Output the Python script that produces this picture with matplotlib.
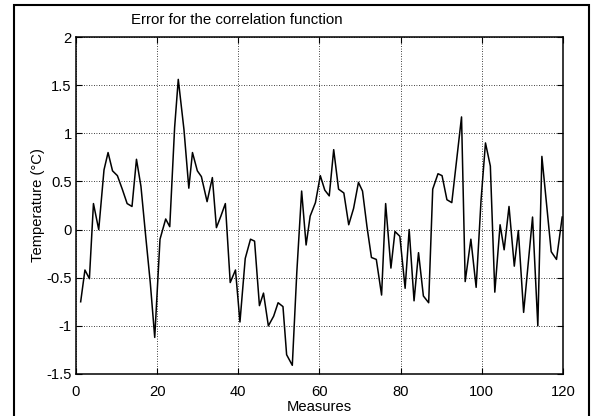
import matplotlib
matplotlib.use("Agg")
import matplotlib.pyplot as plt
from matplotlib.patches import Rectangle

# vertices (measure index, error in degC)
measure = [1.15, 2.2, 3.3, 4.3, 5.6, 6.9, 7.9, 9.0, 10.2, 11.4,
           12.6, 13.8, 14.9, 16.0, 17.2, 18.3, 19.4, 20.7, 22.1, 23.1,
           24.3, 25.2, 26.6, 27.8, 28.7, 29.9, 30.9, 32.3, 33.6, 34.6,
           35.7, 36.8, 38.0, 39.3, 40.4, 41.7, 43.0, 44.0, 45.2, 46.2,
           47.4, 48.7, 49.8, 51.0, 51.9, 53.3, 54.4, 55.6, 56.7, 57.7,
           59.0, 60.2, 61.3, 62.4, 63.5, 64.7, 66.0, 67.2, 68.4, 69.6,
           70.6, 71.7, 72.8, 74.0, 75.3, 76.3, 77.6, 78.6, 79.8, 81.1,
           82.1, 83.3, 84.4, 85.6, 86.9, 87.9, 89.2, 90.2, 91.4, 92.6,
           95.0, 95.9, 97.3, 98.6, 99.8, 100.9, 102.1, 103.2, 104.5, 105.5,
           106.7, 108.0, 109.0, 110.3, 112.5, 113.8, 114.8, 117.1, 118.4, 119.8]
error = [-0.75, -0.42, -0.51, 0.27, 0.0, 0.62, 0.80, 0.61, 0.56, 0.42,
         0.27, 0.24, 0.73, 0.45, -0.08, -0.55, -1.12, -0.10, 0.11, 0.03,
         1.06, 1.56, 1.04, 0.43, 0.80, 0.61, 0.55, 0.29, 0.54, 0.02,
         0.14, 0.27, -0.55, -0.42, -0.96, -0.30, -0.10, -0.12, -0.79, -0.66,
         -1.0, -0.90, -0.76, -0.80, -1.30, -1.41, -0.45, 0.40, -0.16, 0.14,
         0.28, 0.56, 0.41, 0.35, 0.83, 0.42, 0.38, 0.05, 0.22, 0.49,
         0.40, 0.03, -0.29, -0.31, -0.68, 0.27, -0.40, -0.02, -0.07, -0.61,
         0.0, -0.74, -0.24, -0.69, -0.76, 0.42, 0.58, 0.56, 0.31, 0.28,
         1.17, -0.54, -0.10, -0.60, 0.30, 0.90, 0.66, -0.65, 0.05, -0.21,
         0.24, -0.38, -0.01, -0.86, 0.13, -1.0, 0.76, -0.23, -0.31, 0.13]

x_ticks = [0, 20, 40, 60, 80, 100, 120]
y_ticks = [-1.5, -1, -0.5, 0, 0.5, 1, 1.5, 2]
y_tick_labels = ["-1.5", "-1", "-0.5", "0", "0.5", "1", "1.5", "2"]

plt.rcParams["font.family"] = ["Liberation Sans", "DejaVu Sans"]
plt.rcParams["font.size"] = 10.6

fig = plt.figure(figsize=(5.91, 4.16), dpi=100)
ax = fig.add_axes([0.1286, 0.101, 0.824, 0.810])

ax.plot(measure, error, color="black", linewidth=1.1)

ax.set_xlim(0, 120)
ax.set_ylim(-1.5, 2)
ax.set_xticks(x_ticks)
ax.set_yticks(y_ticks)
ax.set_yticklabels(y_tick_labels)
ax.tick_params(direction="in", length=4, width=0.8, colors="black",
               top=True, right=True, labelsize=10.6)
ax.tick_params(axis="x", pad=8)
ax.tick_params(axis="y", pad=3)
ax.grid(True, color="black", linestyle=(0, (1, 2)), linewidth=0.6)
for sp in ax.spines.values():
    sp.set_linewidth(1.1)
    sp.set_color("black")

ax.set_xlabel("Measures", labelpad=1)
ax.set_ylabel("Temperature (°C)", labelpad=1)
fig.text(237 / 591, 1 - 20 / 416, "Error for the correlation function",
         ha="center", va="center", fontsize=10.8)

# outer frame around the figure (runs off the bottom edge)
fig.patches.append(Rectangle((14 / 591, -0.05), 1 - 14 / 591 - 0.003, 1.037,
                             transform=fig.transFigure, fill=False,
                             edgecolor="black", linewidth=1.5))

fig.savefig("out.png", dpi=100)
plt.close(fig)
